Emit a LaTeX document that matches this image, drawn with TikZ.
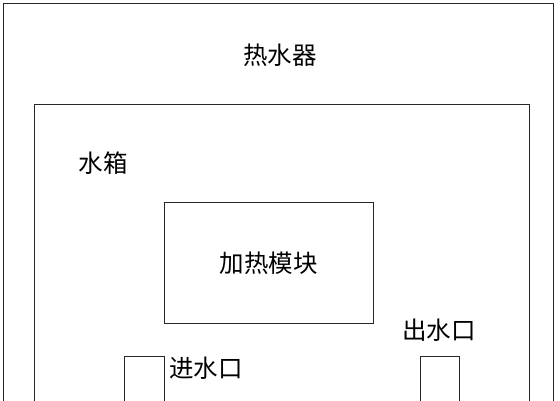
\documentclass[tikz,border=0pt]{standalone}
\usepackage{fontspec}
\setmainfont{Noto Sans CJK SC}
\usepackage{tikz}
\usetikzlibrary{positioning}

\tikzset{
  partBox/.style={draw=black!85, line width=0.9pt, rectangle, inner sep=0pt, anchor=north west},
  cnText/.style={font=\fontsize{24.5}{24.5}\selectfont, inner sep=0pt}
}

\begin{document}
\begin{tikzpicture}[x=1pt,y=-1pt]
  \useasboundingbox (0,0) rectangle (560,400);
  \clip (0,0) rectangle (560,400);

  % outer casing and water tank run off the bottom edge
  \node[partBox, minimum width=550pt, minimum height=440pt] (heater) at (3,3) {};
  \node[partBox, minimum width=495pt, minimum height=340pt] (tank) at (34,104) {};
  \node[partBox, minimum width=209pt, minimum height=121pt] (heatModule) at (164,202) {};
  \node[partBox, minimum width=40pt, minimum height=80pt] (inlet) at (124,356) {};
  \node[partBox, minimum width=39pt, minimum height=80pt] (outlet) at (420,356) {};

  % labels
  \node[cnText] (heaterLabel) at (280,55) {热水器};
  \node[cnText] (tankLabel) at (103,163) {水箱};
  \node[cnText] (moduleLabel) at (heatModule.center) {加热模块};
  \node[cnText] (inletLabel) at (206,368) {进水口};
  \node[cnText] (outletLabel) at (439,330) {出水口};
\end{tikzpicture}
\end{document}
